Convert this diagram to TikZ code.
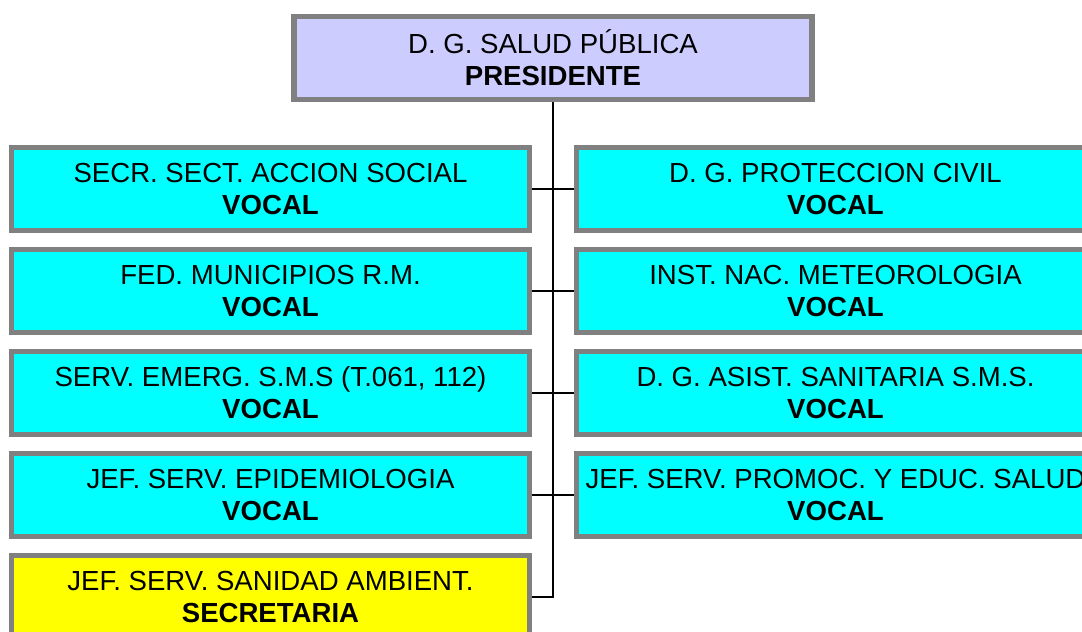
\documentclass[tikz,border=0pt]{standalone}
\usepackage{fontspec}
\setmainfont{Liberation Sans}
\usepackage{xcolor}
\usepackage{tikz}
\usetikzlibrary{positioning}
\definecolor{boxgray}{HTML}{808080}
\definecolor{lavender}{HTML}{CCCCFF}
\definecolor{aqua}{HTML}{00FFFF}
\definecolor{lemon}{HTML}{FFFF00}
\tikzstyle{line}   = [black, line width=1.5pt]
\tikzstyle{member} = [rectangle, draw=boxgray, line width=3pt, fill=aqua, minimum width=10.36cm, minimum height=1.66cm, inner sep=0pt, font=\fontsize{15.7}{18.2}\selectfont]
\tikzset{every node/.style={align=center}}

\begin{document}
\begin{tikzpicture}[x=0.02cm, y=-0.02cm]
    \clip (0,0) rectangle (1082,632);
    % President on top
    \node (pres) at (553,58) [member, fill=lavender] {D. G. SALUD PÚBLICA\\\textbf{PRESIDENTE}};
    % Left column
    \node (l1)  at (270.5,189) [member] {SECR. SECT. ACCION SOCIAL\\\textbf{VOCAL}};
    \node (l2)  at (270.5,291) [member] {FED. MUNICIPIOS R.M.\\\textbf{VOCAL}};
    \node (l3)  at (270.5,393) [member] {SERV. EMERG. S.M.S (T.061, 112)\\\textbf{VOCAL}};
    \node (l4)  at (270.5,495) [member] {JEF. SERV. EPIDEMIOLOGIA\\\textbf{VOCAL}};
    \node (sec) at (270.5,597) [member, fill=lemon] {JEF. SERV. SANIDAD AMBIENT.\\\textbf{SECRETARIA}};
    % Right column
    \node (r1)  at (835.5,189) [member] {D. G. PROTECCION CIVIL\\\textbf{VOCAL}};
    \node (r2)  at (835.5,291) [member] {INST. NAC. METEOROLOGIA\\\textbf{VOCAL}};
    \node (r3)  at (835.5,393) [member] {D. G. ASIST. SANITARIA S.M.S.\\\textbf{VOCAL}};
    \node (r4)  at (835.5,495) [member] {JEF. SERV. PROMOC. Y EDUC. SALUD\\\textbf{VOCAL}};

    \draw [line] (pres.south) -- (pres.south |- sec.east) -- (sec.east);
    \foreach \i in {1,...,4}
        \draw [line] (l\i.east) -- (r\i.west);
\end{tikzpicture}
\end{document}
